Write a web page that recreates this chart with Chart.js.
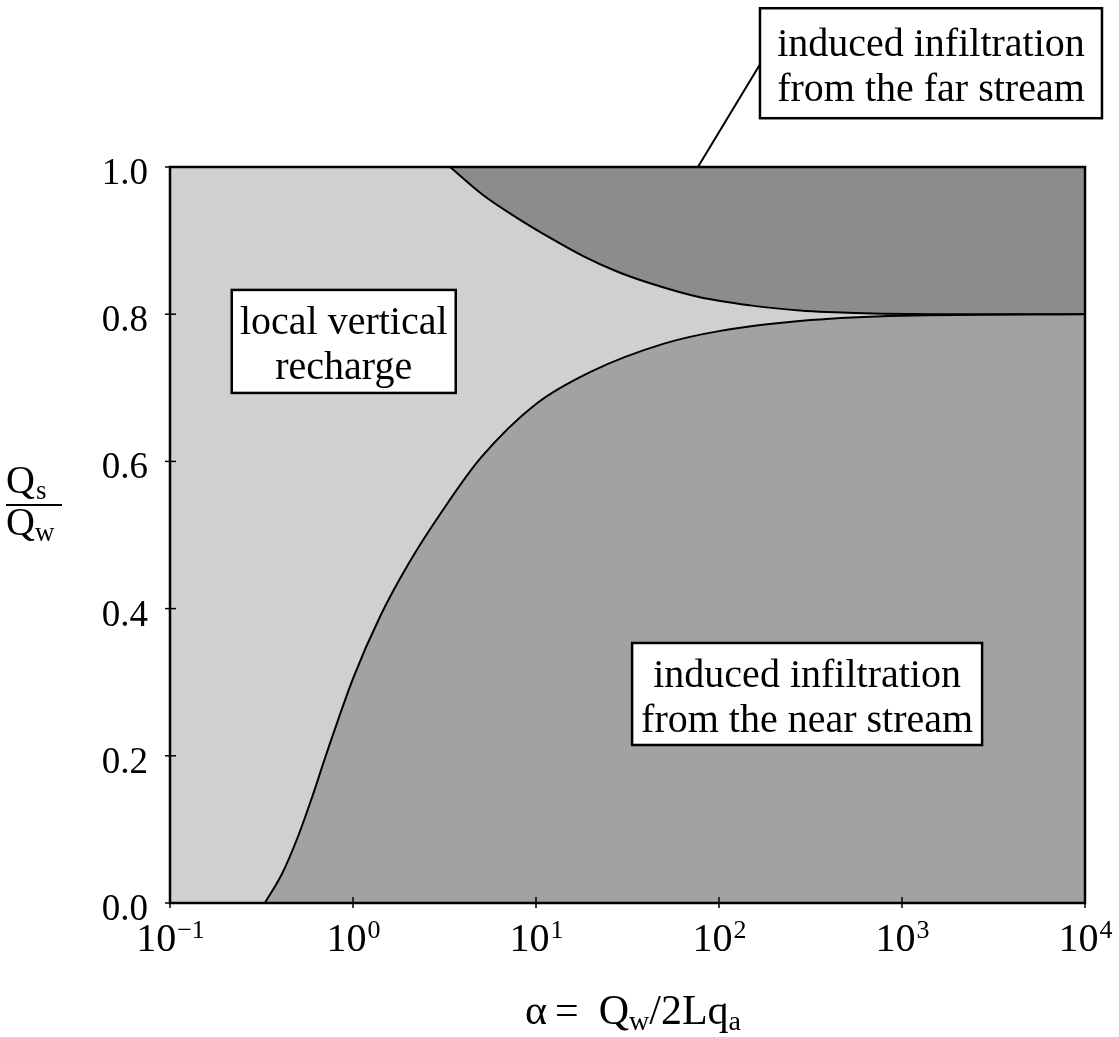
<!DOCTYPE html>
<html>
<head>
<meta charset="utf-8">
<script src="https://cdn.jsdelivr.net/npm/chart.js@4.4.0/dist/chart.umd.min.js"></script>
<style>
  html, body { margin: 0; padding: 0; background: #fff; }
  #wrap { width: 1119px; height: 1037px; }
</style>
</head>
<body>
<div id="wrap"><canvas id="regimeChart" width="1119" height="1037"></canvas></div>
<script>
// Boundary: local vertical recharge / induced infiltration from the near stream
const nearAlpha = [0.33, 0.41, 0.5, 0.6, 0.71, 1.0, 1.41, 2.0, 3.16, 5.0, 10, 20, 50, 100, 316, 1000, 10000];
const nearQs    = [0, 0.04, 0.09, 0.145, 0.2, 0.305, 0.39, 0.46, 0.537, 0.605, 0.678, 0.722, 0.76, 0.777, 0.792, 0.798, 0.8];

// Boundary: local vertical recharge / induced infiltration from the far stream
const farAlpha = [3.39, 5.13, 7.87, 11.9, 18.1, 27.7, 42, 78.7, 148, 277, 389, 1480, 10000];
const farQs    = [1.0, 0.962, 0.931, 0.904, 0.879, 0.858, 0.842, 0.823, 0.812, 0.805, 0.803, 0.8, 0.8];

// Axis ticks
const xTicks = [0.1, 1, 10, 100, 1000, 10000];
const xExponents = ['\u22121', '0', '1', '2', '3', '4'];
const yTicks = [0, 0.2, 0.4, 0.6, 0.8, 1.0];

// Region labels
const regionLabels = [
    ['local vertical', 'recharge'],
    ['induced infiltration', 'from the near stream'],
    ['induced infiltration', 'from the far stream']
];

// Where the label boxes sit (box centre in data units) and how big they are
const boxLayout = [
    { alpha: 0.89, qs: 0.763, w: 224, h: 103 },
    { alpha: 303, qs: 0.284, w: 350, h: 102 },
    { alpha: 1440, qs: 1.141, w: 342, h: 110 }
];
// leader line from the far stream box to the plot edge
const leader = { from: { alpha: 167, qs: 1.139 }, to: { alpha: 76.7, qs: 1.0 } };

const SERIF = '"Liberation Serif", "DejaVu Serif", serif';
const font = px => px + 'px ' + SERIF;

const paperPlugin = {
    id: 'paper',
    beforeDatasetsDraw(chart) {
        const { ctx, chartArea: a } = chart;
        ctx.save();
        ctx.fillStyle = '#d0d0d0';
        ctx.fillRect(a.left, a.top, a.right - a.left, a.bottom - a.top);
        ctx.restore();
    },
    afterDatasetsDraw(chart) {
        const { ctx, chartArea: a, scales: { x, y } } = chart;
        ctx.save();
        ctx.strokeStyle = '#000';
        ctx.fillStyle = '#000';

        // frame
        ctx.lineWidth = 2.5;
        ctx.strokeRect(a.left, a.top, a.right - a.left, a.bottom - a.top);

        // x ticks + labels
        ctx.lineWidth = 1.5;
        ctx.textAlign = 'left';
        ctx.textBaseline = 'alphabetic';
        xTicks.forEach((v, i) => {
            const px = x.getPixelForValue(v);
            ctx.beginPath();
            ctx.moveTo(px, a.bottom - 6);
            ctx.lineTo(px, a.bottom + 5);
            ctx.stroke();
            ctx.font = font(40);
            const wb = ctx.measureText('10').width;
            ctx.font = font(26);
            const we = ctx.measureText(xExponents[i]).width;
            const left = px - (wb + we) / 2;
            ctx.font = font(40);
            ctx.fillText('10', left, 951);
            ctx.font = font(26);
            ctx.fillText(xExponents[i], left + wb + 1, 938);
        });

        // y ticks + labels
        ctx.textAlign = 'right';
        ctx.font = font(37);
        yTicks.forEach(v => {
            const py = y.getPixelForValue(v);
            ctx.beginPath();
            ctx.moveTo(a.left - 5, py);
            ctx.lineTo(a.left + 6, py);
            ctx.stroke();
            ctx.fillText(v.toFixed(1), 148, py + 17);
        });

        // y title: Qs / Qw
        ctx.textAlign = 'left';
        ctx.font = font(40);
        const wQ = ctx.measureText('Q').width;
        ctx.fillText('Q', 6, 493);
        ctx.fillText('Q', 6, 535);
        ctx.font = font(27);
        ctx.fillText('s', 6 + wQ + 1, 499);
        ctx.fillText('w', 6 + wQ, 541);
        ctx.lineWidth = 2;
        ctx.beginPath();
        ctx.moveTo(6, 505);
        ctx.lineTo(62, 505);
        ctx.stroke();

        // x title: alpha = Qw/2Lqa
        let cx = 525;
        const base = 1024;
        const put = (t, size, dy) => {
            ctx.font = font(size);
            ctx.fillText(t, cx, base + dy);
            cx += ctx.measureText(t).width;
        };
        put('\u03b1', 42, 0);
        cx += 8;
        put('=', 42, 0);
        cx += 20;
        put('Q', 42, 0);
        put('w', 28, 6);
        put('/2Lq', 42, 0);
        put('a', 28, 6);

        // leader line
        ctx.lineWidth = 2;
        ctx.beginPath();
        ctx.moveTo(x.getPixelForValue(leader.from.alpha), y.getPixelForValue(leader.from.qs));
        ctx.lineTo(x.getPixelForValue(leader.to.alpha), y.getPixelForValue(leader.to.qs));
        ctx.stroke();

        // label boxes
        ctx.textAlign = 'center';
        ctx.font = font(40);
        boxLayout.forEach((b, i) => {
            const cxp = x.getPixelForValue(b.alpha);
            const cyp = y.getPixelForValue(b.qs);
            ctx.fillStyle = '#fff';
            ctx.fillRect(cxp - b.w / 2, cyp - b.h / 2, b.w, b.h);
            ctx.lineWidth = 2.5;
            ctx.strokeRect(cxp - b.w / 2, cyp - b.h / 2, b.w, b.h);
            ctx.fillStyle = '#000';
            regionLabels[i].forEach((line, j) => {
                ctx.fillText(line, cxp, cyp - 7 + j * 45);
            });
        });
        ctx.restore();
    }
};

const ctxRegime = document.getElementById('regimeChart').getContext('2d');
const regimeChart = new Chart(ctxRegime, {
    type: 'line',
    data: {
        datasets: [{
            label: 'near stream',
            data: nearAlpha.map((a, i) => ({ x: a, y: nearQs[i] })),
            borderColor: '#000',
            borderWidth: 2,
            backgroundColor: '#a2a2a2',
            fill: 'start',
            pointRadius: 0,
            cubicInterpolationMode: 'monotone'
        }, {
            label: 'far stream',
            data: farAlpha.map((a, i) => ({ x: a, y: farQs[i] })),
            borderColor: '#000',
            borderWidth: 2,
            backgroundColor: '#8c8c8c',
            fill: 'end',
            pointRadius: 0,
            cubicInterpolationMode: 'monotone'
        }]
    },
    options: {
        responsive: false,
        animation: false,
        layout: {
            padding: { left: 170, right: 34, top: 167, bottom: 134 }
        },
        scales: {
            x: { type: 'logarithmic', min: 0.1, max: 10000, display: false },
            y: { min: 0, max: 1, display: false }
        },
        plugins: {
            legend: { display: false },
            tooltip: { enabled: false }
        }
    },
    plugins: [paperPlugin]
});
</script>
</body>
</html>
